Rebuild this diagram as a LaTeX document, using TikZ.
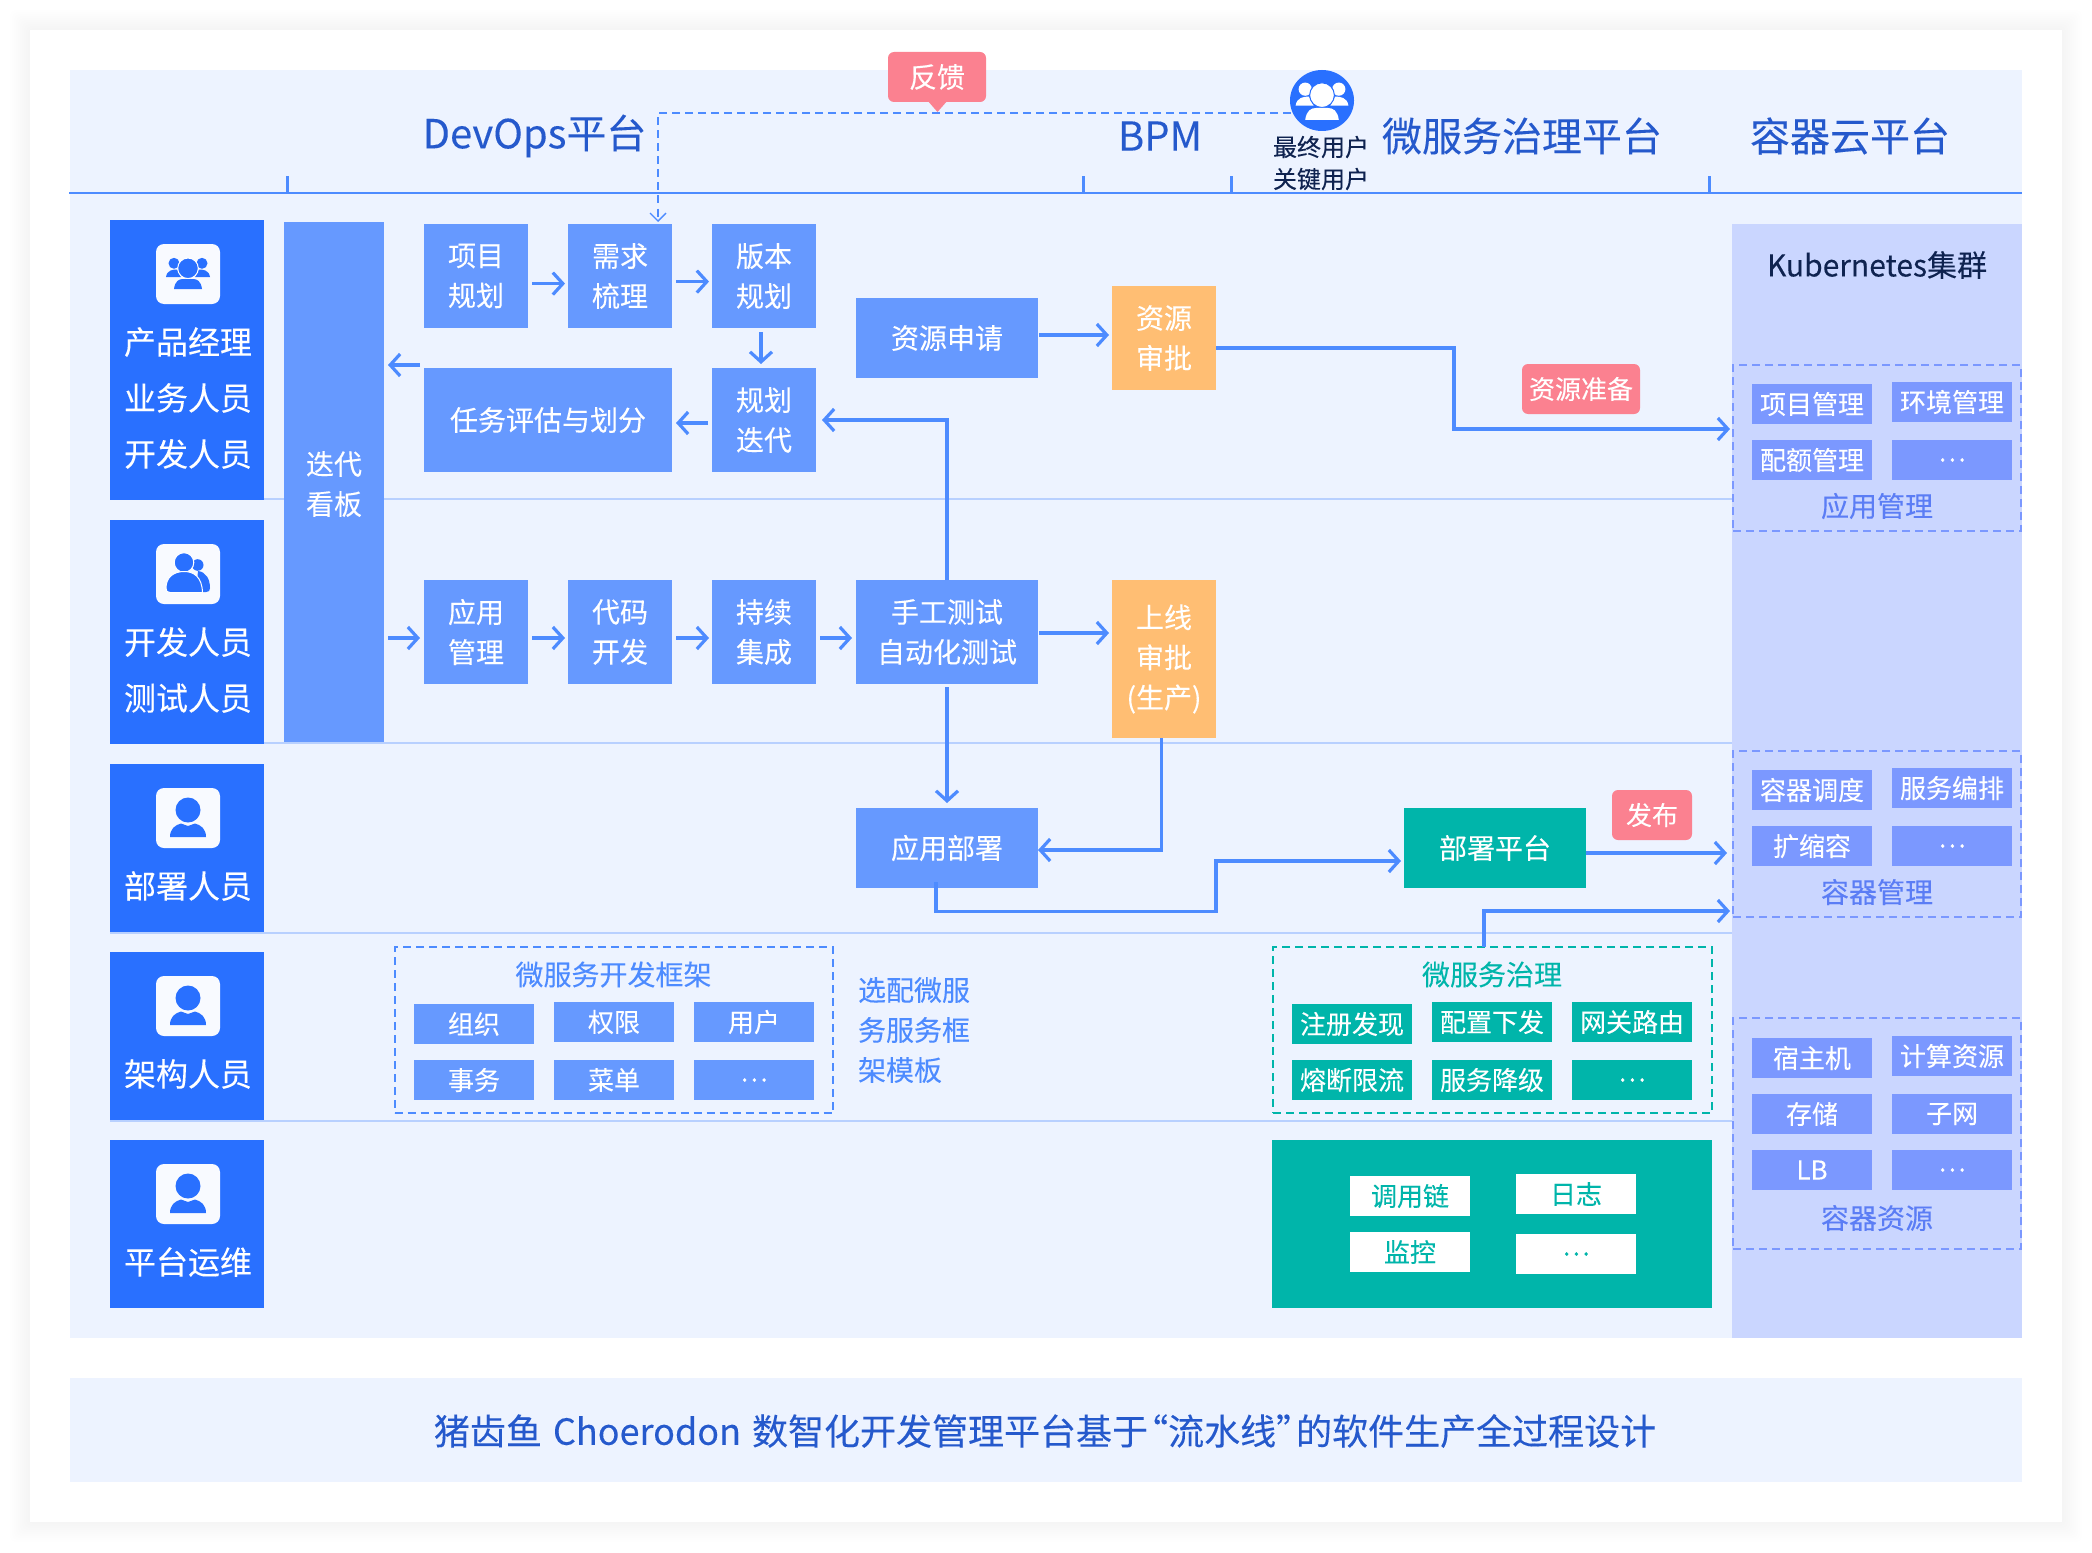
\documentclass[tikz,border=0pt]{standalone}
\usepackage{fontspec}
\setmainfont[FakeBold=0.12]{Noto Sans CJK SC}
\usetikzlibrary{arrows.meta,shapes.geometric}
\definecolor{panelc}{HTML}{EDF3FF}
\definecolor{rolec}{HTML}{2970FF}
\definecolor{boxc}{HTML}{6699FF}
\definecolor{tealc}{HTML}{00B5AA}
\definecolor{orangec}{HTML}{FFBE73}
\definecolor{kc}{HTML}{CAD6FF}
\definecolor{kboxc}{HTML}{7B98FF}
\definecolor{klabel}{HTML}{5B7DF5}
\definecolor{titlec}{HTML}{2559CC}
\definecolor{pinkc}{HTML}{FB8190}
\definecolor{arrowc}{HTML}{4D8BFF}
\definecolor{sepc}{HTML}{B8D0FF}
\definecolor{navyc}{HTML}{0F2350}
\tikzset{
  fa/.style={font=\fontsize{14pt}{20pt}\selectfont},
  fb/.style={font=\fontsize{13pt}{20pt}\selectfont},
  fc/.style={font=\fontsize{20pt}{24pt}\selectfont},
  flat/.style={inner sep=0pt,outer sep=0pt,align=center},
  bluebox/.style={flat,fill=boxc,text=white,fa},
  orangebox/.style={flat,fill=orangec,text=white,fa},
  tealbox/.style={flat,fill=tealc,text=white,fa},
  rolebox/.style={flat,fill=rolec},
  roletext/.style={flat,text=white,font=\fontsize{16pt}{28pt}\selectfont},
  iconbox/.style={flat,fill=panelc!40!white,rounded corners=4pt},
  smallblue/.style={flat,fill=boxc,text=white,fb},
  smallk/.style={flat,fill=kboxc,text=white,fb},
  smallteal/.style={flat,fill=tealc,text=white,fb},
  smallwhite/.style={flat,fill=white,text=tealc,fb},
  badge/.style={flat,fill=pinkc,text=white,rounded corners=3pt,fb},
  hdr/.style={flat,text=titlec,fc},
  dashk/.style={flat,draw=kboxc,line width=1pt,dash pattern=on 4pt off 2.5pt},
  dashb/.style={flat,draw=arrowc,line width=1pt,dash pattern=on 4pt off 2.5pt},
  dasht/.style={flat,draw=tealc,line width=1pt,dash pattern=on 4pt off 2.5pt},
  arr/.style={draw=arrowc,line width=1.8pt,-{Straight Barb[length=5pt,width=11pt,line width=1.6pt]}},
  sep/.style={draw=sepc,line width=1pt},
  hline/.style={draw=arrowc,line width=1pt},
  htick/.style={draw=arrowc,line width=1.5pt},
}
\newcommand{\bx}[7]{%
  \pgfmathsetmacro\cxx{(#2+#4)/2}\pgfmathsetmacro\cyy{(#3+#5)/2}%
  \pgfmathsetmacro\ww{(#4-#2)*0.5}\pgfmathsetmacro\hh{(#5-#3)*0.5}%
  \node[#6,minimum width=\ww pt,minimum height=\hh pt] (#1) at (\cxx,\cyy) {#7};}
\newcommand{\grpicon}[5]{%
  \begin{scope}[shift={(#1,#2)},scale=#3]
    \fill[#4] (-14,-10.7) circle (5.5);
    \fill[#4] (14,-10.7) circle (5.5);
    \fill[#4] (-22,3) .. controls (-21,-4) and (-15,-4.5) .. (-11,-4.5) -- (-7,3) -- cycle;
    \fill[#4] (22,3) .. controls (21,-4) and (15,-4.5) .. (11,-4.5) -- (7,3) -- cycle;
    \fill[#4,draw=#5,line width=0.5pt] (0,-5.7) circle (10.3);
    \fill[#4] (-14,15) .. controls (-13,7) and (-9,5) .. (-5,5) -- (5,5) .. controls (9,5) and (13,7) .. (14,15) -- cycle;
  \end{scope}}
\newcommand{\oneicon}[2]{%
  \begin{scope}[shift={(#1,#2)}]
    \fill[rolec] (0,-8) ellipse [x radius=12.5,y radius=12.5];
    \fill[rolec] (-18,19) .. controls (-18,11) and (-13,7) .. (-7,5.5) -- (0,8) -- (7,5.5) .. controls (13,7) and (18,11) .. (18,19) -- cycle;
  \end{scope}}
\newcommand{\twoicon}[2]{%
  \begin{scope}[shift={(#1,#2)}]
    \fill[rolec] (9.7,-9) circle (5.8);
    \fill[rolec] (10,-3) .. controls (18,-2) and (22,5) .. (22,14) .. controls (22,17) and (21,18) .. (18,18) -- (8,18) -- cycle;
    \fill[rolec,draw=white,line width=0.5pt] (-4,-11.5) circle (9.8);
    \fill[rolec,draw=white,line width=0.5pt] (-22,14) .. controls (-22,3) and (-14,-2.5) .. (-4,-2.5) .. controls (6,-2.5) and (14,3) .. (14.5,18.5) -- (-18,18.5) .. controls (-21,18.5) and (-22,17) .. (-22,14) -- cycle;
  \end{scope}}
\begin{document}
\begin{tikzpicture}[x=0.5pt,y=-0.5pt]
\useasboundingbox (0,0) rectangle (2092,1552);
\fill[white] (0,0) rectangle (2092,1552);
% soft card shadow
\foreach \i in {1,...,10}{
  \fill[black,opacity=0.003,rounded corners=3pt] ({30-2*\i},{30-2*\i}) rectangle ({2062+2*\i},{1522+2*\i});
}
\fill[white] (30,30) rectangle (2062,1522);
% panels
\bx{panel}{70}{70}{2022}{1338}{flat,fill=panelc}{}
\bx{banner}{70}{1378}{2022}{1482}{flat,fill=panelc}{}
\bx{kpanel}{1732}{224}{2022}{1338}{flat,fill=kc}{}
% separators
\draw[sep] (264,499) -- (1732,499);
\draw[sep] (264,743) -- (1732,743);
\draw[sep] (110,933) -- (1732,933);
\draw[sep] (110,1121) -- (1732,1121);
% header
\draw[hline] (69,193) -- (2022,193);
\draw[htick] (287,176) -- (287,193);
\draw[htick] (1083,176) -- (1083,193);
\draw[htick] (1231,176) -- (1231,193);
\draw[htick] (1709,176) -- (1709,193);
\node[hdr] (tdev) at (534.5,136) {DevOps平台};
\node[hdr] (tbpm) at (1160,136) {BPM};
\node[hdr] (tms) at (1522,136) {微服务治理平台};
\node[hdr] (tk) at (1850,136) {容器云平台};
% roles
\bx{r1}{110}{220}{264}{500}{rolebox}{}
\bx{r2}{110}{520}{264}{744}{rolebox}{}
\bx{r3}{110}{764}{264}{932}{rolebox}{}
\bx{r4}{110}{952}{264}{1120}{rolebox}{}
\bx{r5}{110}{1140}{264}{1308}{rolebox}{}
\bx{i1}{156}{244}{220}{304}{iconbox}{}
\bx{i2}{156}{544}{220}{604}{iconbox}{}
\bx{i3}{156}{788}{220}{848}{iconbox}{}
\bx{i4}{156}{976}{220}{1036}{iconbox}{}
\bx{i5}{156}{1164}{220}{1224}{iconbox}{}
\grpicon{188}{274}{1}{rolec}{white}
\twoicon{188}{574}
\oneicon{188}{818}
\oneicon{188}{1006}
\oneicon{188}{1194}
\node[roletext] (r1t) at (188,398) {产品经理\\业务人员\\开发人员};
\node[roletext] (r2t) at (188,670) {开发人员\\测试人员};
\node[roletext] (r3t) at (188,886) {部署人员};
\node[roletext] (r4t) at (188,1074) {架构人员};
\node[roletext] (r5t) at (188,1262) {平台运维};
% board
\bx{board}{284}{222}{384}{742}{bluebox}{}
\node[flat,text=white,fa] (boardt) at (334,484) {迭代\\看板};
% row 1
\bx{p1}{424}{224}{528}{328}{bluebox}{项目\\规划}
\bx{p2}{568}{224}{672}{328}{bluebox}{需求\\梳理}
\bx{p3}{712}{224}{816}{328}{bluebox}{版本\\规划}
\bx{p4}{424}{368}{672}{472}{bluebox}{任务评估与划分}
\bx{p5}{712}{368}{816}{472}{bluebox}{规划\\迭代}
\bx{res}{856}{298}{1038}{378}{bluebox}{资源申请}
\bx{resok}{1112}{286}{1216}{390}{orangebox}{资源\\审批}
% row 3
\bx{q1}{424}{580}{528}{684}{bluebox}{应用\\管理}
\bx{q2}{568}{580}{672}{684}{bluebox}{代码\\开发}
\bx{q3}{712}{580}{816}{684}{bluebox}{持续\\集成}
\bx{q4}{856}{580}{1038}{684}{bluebox}{手工测试\\自动化测试}
\bx{goon}{1112}{580}{1216}{738}{orangebox}{上线\\审批\\(生产)}
\bx{dep}{856}{808}{1038}{888}{bluebox}{应用部署}
\bx{plat}{1404}{808}{1586}{888}{tealbox}{部署平台}
% badges
\fill[pinkc] (927,100) -- (937.5,112) -- (948,100) -- cycle;
\bx{fb}{888}{52}{986}{102}{badge,fa}{反馈}
\bx{zb}{1522}{364}{1640}{414}{badge}{资源准备}
\bx{fab}{1612}{790}{1692}{840}{badge}{发布}
% end user
\node[flat,fill=rolec,shape=ellipse,minimum width=32pt,minimum height=30.5pt] (usr) at (1322,100.5) {};
\grpicon{1322}{102}{1.2}{white}{rolec}
\node[flat,text=navyc,font=\fontsize{12pt}{16pt}\selectfont] (usrt) at (1321,163) {最终用户\\关键用户};
% k8s
\node[flat,text=navyc,font=\fontsize{15pt}{20pt}\selectfont] (kt) at (1877,265) {Kubernetes集群};
\bx{kd1}{1733}{365}{2021}{531}{dashk}{}
\bx{a1}{1752}{384}{1872}{424}{smallk}{项目管理}
\bx{a2}{1892}{382}{2012}{422}{smallk}{环境管理}
\bx{a3}{1752}{440}{1872}{480}{smallk}{配额管理}
\bx{a4}{1892}{440}{2012}{480}{smallk}{…}
\node[flat,text=klabel,fa] (al) at (1877,506) {应用管理};
\bx{kd2}{1733}{751}{2021}{917}{dashk}{}
\bx{b1}{1752}{770}{1872}{810}{smallk}{容器调度}
\bx{b2}{1892}{768}{2012}{808}{smallk}{服务编排}
\bx{b3}{1752}{826}{1872}{866}{smallk}{扩缩容}
\bx{b4}{1892}{826}{2012}{866}{smallk}{…}
\node[flat,text=klabel,fa] (bl) at (1877,892) {容器管理};
\bx{kd3}{1733}{1018}{2021}{1249}{dashk}{}
\bx{c1}{1752}{1038}{1872}{1078}{smallk}{宿主机}
\bx{c2}{1892}{1036}{2012}{1076}{smallk}{计算资源}
\bx{c3}{1752}{1094}{1872}{1134}{smallk}{存储}
\bx{c4}{1892}{1094}{2012}{1134}{smallk}{子网}
\bx{c5}{1752}{1150}{1872}{1190}{smallk}{LB}
\bx{c6}{1892}{1150}{2012}{1190}{smallk}{…}
\node[flat,text=klabel,fa] (cl) at (1877,1218) {容器资源};
% framework
\bx{fw}{394.5}{947}{833}{1113}{dashb}{}
\node[flat,text=arrowc,fa] (fwt) at (613.5,974.5) {微服务开发框架};
\bx{f1}{414}{1004}{534}{1044}{smallblue}{组织}
\bx{f2}{554}{1002}{674}{1042}{smallblue}{权限}
\bx{f3}{694}{1002}{814}{1042}{smallblue}{用户}
\bx{f4}{414}{1060}{534}{1100}{smallblue}{事务}
\bx{f5}{554}{1060}{674}{1100}{smallblue}{菜单}
\bx{f6}{694}{1060}{814}{1100}{smallblue}{…}
\node[flat,text=arrowc,fa,anchor=west,align=left] (sel) at (858,1030) {选配微服\\务服务框\\架模板};
% governance
\bx{gv}{1273}{947}{1712}{1113}{dasht}{}
\node[flat,text=tealc,fa] (gvt) at (1492,974.5) {微服务治理};
\bx{g1}{1292}{1004}{1412}{1044}{smallteal}{注册发现}
\bx{g2}{1432}{1002}{1552}{1042}{smallteal}{配置下发}
\bx{g3}{1572}{1002}{1692}{1042}{smallteal}{网关路由}
\bx{g4}{1292}{1060}{1412}{1100}{smallteal}{熔断限流}
\bx{g5}{1432}{1060}{1552}{1100}{smallteal}{服务降级}
\bx{g6}{1572}{1060}{1692}{1100}{smallteal}{…}
% observability
\bx{ob}{1272}{1140}{1712}{1308}{flat,fill=tealc}{}
\bx{o1}{1350}{1176}{1470}{1216}{smallwhite}{调用链}
\bx{o2}{1516}{1174}{1636}{1214}{smallwhite}{日志}
\bx{o3}{1350}{1232}{1470}{1272}{smallwhite}{监控}
\bx{o4}{1516}{1234}{1636}{1274}{smallwhite}{…}
% banner text
\node[flat,text=titlec,font=\fontsize{18pt}{22pt}\selectfont] (bt) at (1045,1431) {猪齿鱼 \kern1.5pt Choerodon \kern1.5pt 数智化开发管理平台基于\kern-8pt“流水线”\kern-8pt的软件生产全过程设计};
% connectors
\draw[arr] ([shift={(4,7.6)}]p1.east) -- ([shift={(-3,7.6)}]p2.west);
\draw[arr] ([shift={(4,5.6)}]p2.east) -- ([shift={(-3,5.6)}]p3.west);
\draw[arr] ([shift={(-3,4)}]p3.south) -- ([shift={(-3,-4)}]p5.north);
\draw[arr] ([shift={(-4,3)}]p5.west) -- ([shift={(4,3)}]p4.east);
\draw[arr] ([shift={(-4,-55)}]p4.west) -- ([shift={(4,-117)}]board.east);
\draw[arr] ([shift={(4,156)}]board.east) -- ([shift={(-4,6)}]q1.west);
\draw[arr] ([shift={(4,6)}]q1.east) -- ([shift={(-3,6)}]q2.west);
\draw[arr] ([shift={(4,6)}]q2.east) -- ([shift={(-3,6)}]q3.west);
\draw[arr] ([shift={(4,6)}]q3.east) -- ([shift={(-4,6)}]q4.west);
\draw[arr] ([shift={(1,-3)}]res.east) -- ([shift={(-3,-3)}]res.east -| resok.west);
\draw[arr] ([shift={(1,1)}]q4.east) -- ([shift={(-3,1)}]q4.east -| goon.west);
\draw[arr] (q4.north) |- ([xshift=3pt]p5.east);
\draw[arr] ([yshift=-1.5pt]q4.south) -- ([yshift=2.5pt]dep.north);
\draw[arr] ([shift={(-2.5,0)}]goon.south) |- ([yshift=-1pt]dep.east);
\draw[arr] (resok.east |- 0,348) -| (1454,429) -- ([shift={(-3,0)}]kd1.west |- 0,429);
\draw[arr] ([shift={(-11,-6)}]dep.south) |- (1216,911.5) |- ([shift={(-3,13)}]plat.west);
\draw[arr] ([shift={(0,5)}]plat.east) -- ([shift={(-6,5)}]plat.east -| kd2.west);
\draw[arr] ([shift={(-8.5,0)}]gv.north) |- ([shift={(-3,0)}]kd2.west |- 0,911);
\draw[arrowc,line width=1pt,dash pattern=on 4pt off 2.5pt,-{Straight Barb[length=4pt,width=8pt,line width=0.7pt]}] ([shift={(-31,13)}]usr.center) -| ([shift={(38,-2)}]p2.north);
\end{tikzpicture}
\end{document}
